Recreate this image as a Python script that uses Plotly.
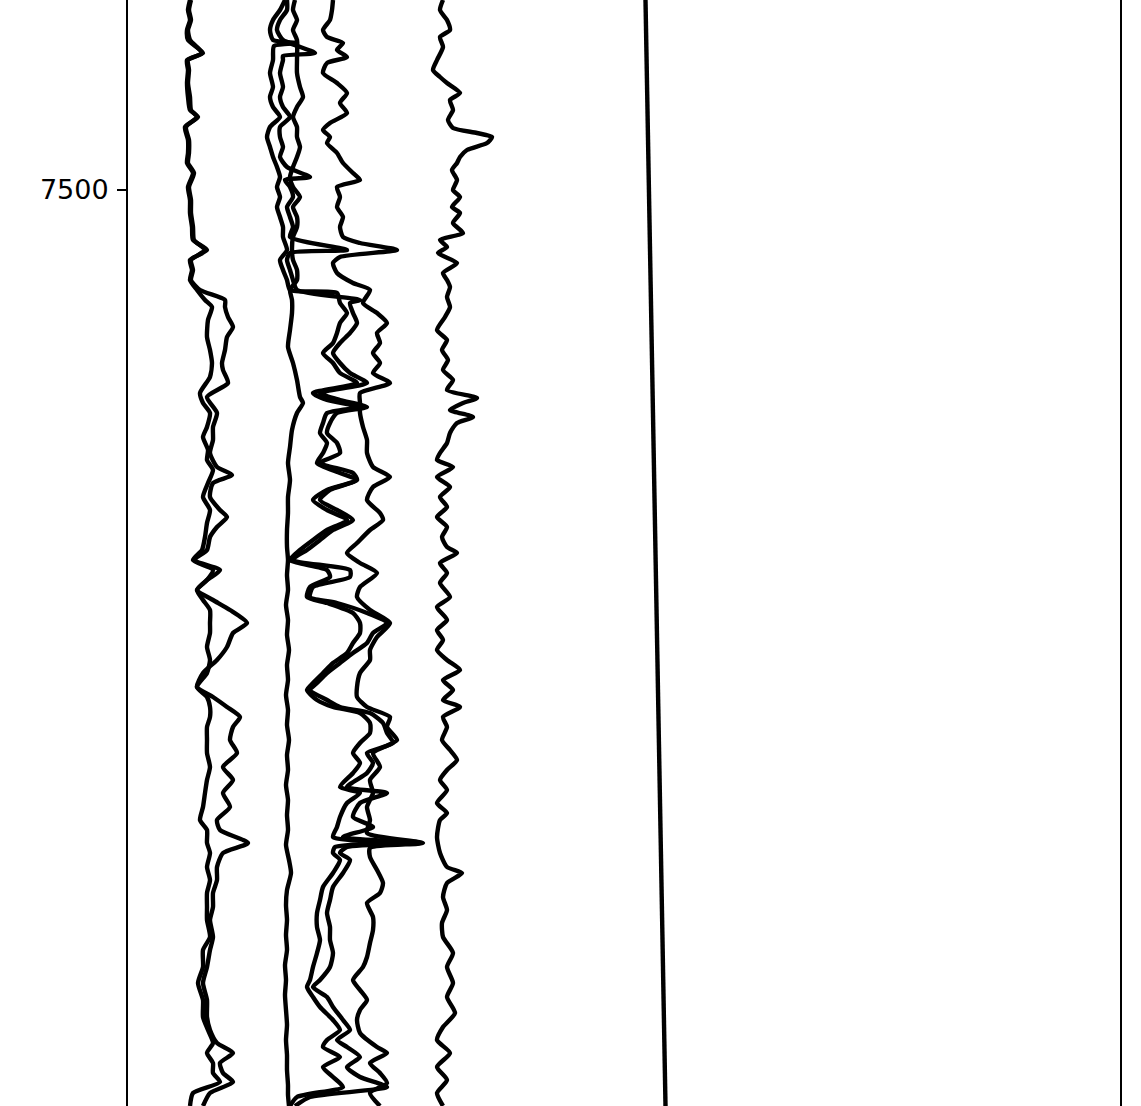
import plotly.graph_objects as go

# ---- curve A ----
depth_a = [7405,7410,7415,7420,7425,7431.5,7435,7440,7446.5,7453.5,7460,7463.5,7468.5,7475,7481.5,7486.5,7491.5,7498.5,7505,7511.5,
           7518.5,7525,7530,7535,7540,7545,7550,7555,7558.5,7565,7573.5,7580,7586.5,7593.5,7601.5,7606.5,7611.5,7618.5,7623.5,7630,
           7635,7640,7646.5,7653.5,7660,7666.5,7673.5,7680,7685,7690,7695,7700,7705,7710,7716.5,7721.5,7728.5,7735,7741.5,7748.5,
           7753.5,7758.5,7763.5,7768.5,7775,7781.5,7788.5,7795,7801.5,7808.5,7815,7820,7826.5,7831.5,7838.5,7845,7851.5,7858.5,7865,7873.5,
           7880,7888.5,7896.5,7905,7913.5,7920,7926.5,7931.5,7936.5,7941.5,7946,7951.5,7958]
curve_a = [62,60,62,59,60,75,59,60,59,60,62,70,57,60,60,59,65,60,62,62,
           64,65,79,62,64,62,69,77,84,80,79,82,84,82,72,75,82,79,75,80,
           79,85,80,75,82,79,77,74,65,85,79,69,75,82,82,82,79,82,79,69,
           79,82,82,79,79,79,82,79,77,75,72,79,79,82,79,82,79,79,79,82,
           75,75,70,75,75,80,85,79,85,85,92,65,62]

# ---- curve B ----
depth_b = [7405,7410,7415,7420,7425,7431.5,7435,7440,7446.5,7453.5,7460,7463.5,7468.5,7475,7481.5,7486.5,7491.5,7498.5,7505,7511.5,
           7518.5,7525,7530,7535,7540,7545,7550,7555,7558.5,7563.5,7568.5,7573.5,7580,7586.5,7590,7596.5,7603.5,7611.5,7618.5,7625,
           7631.5,7638.5,7642.5,7646.5,7653.5,7660,7663.5,7668.5,7673.5,7680,7685,7690,7695,7700,7705,7710,7716.5,7721.5,7728.5,7735,
           7741.5,7748.5,7753.5,7758.5,7763.5,7768.5,7775,7781.5,7788.5,7795,7801.5,7808.5,7815,7820,7826.5,7831.5,7838.5,7845,7851.5,7858.5,
           7865,7873.5,7880,7888.5,7896.5,7905,7913.5,7920,7926.5,7931.5,7936.5,7941.5,7946,7951.5,7958]
curve_b = [63,61,63,60,62,74,60,61,60,62,63,69,58,61,61,60,66,61,63,63,
           65,66,77,63,65,63,72,97,97,100,105,99,97,94,95,100,79,89,85,85,
           82,89,104,85,82,92,99,89,82,79,66,92,79,69,85,102,119,105,99,89,
           75,69,85,99,112,105,102,109,95,105,95,102,89,92,120,95,89,89,85,85,
           82,85,82,79,75,79,79,82,89,105,92,95,105,82,75]

# ---- curve C ----
depth_c = [7405,7410,7415,7420,7425,7435,7441.5,7448.5,7453.5,7458.5,7463.5,7468.5,7473.5,7478.5,7483.5,7488.5,7493.5,7498.5,7503.5,7508.5,
           7513.5,7518.5,7523.5,7530,7535,7540,7545,7550,7555,7561.5,7570,7578.5,7586.5,7595,7603.5,7606.5,7611.5,7620,7628.5,7636.5,
           7645,7653.5,7661.5,7670,7678.5,7685,7692.5,7700,7707.5,7715,7722.5,7730,7737.5,7745,7752.5,7760,7767.5,7775,7782.5,7790,
           7797.5,7805,7812.5,7820,7827.5,7835,7841.5,7850,7857.5,7865,7872.5,7880,7887.5,7895,7902.5,7910,7917.5,7925,7932.5,7940,
           7947.5,7952.5,7958]
curve_c = [167,165,169,165,169,169,169,172,175,169,165,169,169,172,169,165,162,165,172,165,
           169,169,165,164,165,169,169,162,164,164,162,160,165,169,172,175,169,164,162,160,
           162,160,160,159,159,160,159,160,158,160,159,161,159,160,158,160,159,161,159,160,
           158,160,159,160,158,161,163,159,158,159,158,159,157,158,157,158,159,158,159,159,
           160,160,161]

# ---- curve D ----
depth_d = [7405,7410,7415,7420,7425,7426.5,7428,7435,7441.5,7448.5,7453.5,7458.5,7463.5,7468.5,7473.5,7478.5,7483.5,7488.5,7493.5,7498.5,
           7503.5,7508.5,7513.5,7518.5,7523.5,7530,7535,7540,7545,7550,7551.5,7556.5,7561.5,7566.5,7571.5,7576.5,7581.5,7586.5,7591.5,7596.5,
           7601.5,7605,7608.5,7611.5,7616.5,7621.5,7626.5,7631.5,7636.5,7641.5,7645,7650,7655,7660,7665,7670,7675,7680,7685,7690,
           7693.5,7698.5,7703.5,7706.5,7711.5,7716.5,7721.5,7726.5,7731.5,7736.5,7741.5,7746.5,7750,7755,7758.5,7761.5,7766.5,7771.5,7776.5,7781.5,
           7786.5,7791.5,7798.5,7801.5,7806.5,7813.5,7818.5,7823.5,7826.5,7828.5,7831.5,7835,7841.5,7848.5,7855,7861.5,7868.5,7875,7881.5,7888.5,
           7895,7898.5,7903.5,7908.5,7915,7920,7925,7928.5,7933.5,7938.5,7943.5,7948.5,7953.5,7958]
curve_d = [157,152,145,142,145,169,146,145,142,145,142,145,152,142,139,142,145,149,152,149,
           152,149,152,155,155,159,152,155,159,162,209,212,219,212,209,205,195,205,212,229,
           185,199,232,199,195,192,199,195,189,212,229,199,185,199,219,199,185,172,162,199,
           202,182,179,199,225,232,232,225,219,205,195,185,179,189,205,232,242,242,232,225,
           232,225,212,232,219,212,209,205,262,207,205,212,205,195,192,189,189,192,189,185,
           182,179,185,192,205,212,199,195,212,195,205,215,169,162]

# ---- curve E ----
depth_e = [7405,7410,7415,7420,7425,7431.5,7433,7435,7441.5,7448.5,7453.5,7458.5,7463.5,7468.5,7473.5,7478.5,7483.5,7488.5,7493.5,7495,
           7498.5,7503.5,7508.5,7513.5,7518.5,7523.5,7530,7531.5,7535,7540,7545,7550,7555,7556.5,7561.5,7566.5,7571.5,7576.5,7581.5,7586.5,
           7591.5,7596.5,7601.5,7605,7608.5,7611.5,7616.5,7621.5,7626.5,7631.5,7636.5,7641.5,7645,7650,7655,7660,7665,7670,7675,7680,
           7685,7690,7693.5,7698.5,7703.5,7706.5,7711.5,7716.5,7721.5,7726.5,7731.5,7736.5,7741.5,7746.5,7750,7755,7758.5,7761.5,7766.5,7771.5,
           7776.5,7781.5,7786.5,7791.5,7798.5,7801.5,7806.5,7813.5,7818.5,7823.5,7826.5,7828.5,7831.5,7835,7841.5,7848.5,7855,7861.5,7868.5,7875,
           7881.5,7888.5,7895,7898.5,7903.5,7908.5,7915,7920,7925,7928.5,7933.5,7938.5,7943.5,7948.5,7953.5,7958]
curve_e = [159,159,152,149,155,187,155,155,152,155,152,155,162,152,152,155,152,159,182,157,
           162,165,159,162,165,162,219,162,159,162,165,169,232,222,225,229,222,212,205,212,
           222,239,192,212,239,209,202,199,209,212,192,225,229,202,192,209,225,205,192,179,
           164,222,222,185,182,209,239,259,245,239,225,212,199,189,182,199,212,242,255,259,
           265,239,245,239,219,259,232,225,245,215,292,219,212,222,215,205,202,199,202,202,
           205,202,192,185,199,205,215,222,209,219,232,219,232,259,182,167]

# ---- curve G ----
depth_g = [7405,7410,7415,7420,7423.5,7426.5,7430,7433.5,7436.5,7441.5,7446.5,7451.5,7456.5,7461.5,7466.5,7470,7473.5,7476.5,7481.5,7486.5,
           7491.5,7495,7498.5,7503.5,7508.5,7513.5,7518.5,7523.5,7526.5,7530,7533.5,7536.5,7541.5,7546.5,7550,7556.5,7561.5,7566.5,7571.5,7576.5,
           7581.5,7586.5,7591.5,7596.5,7601.5,7606.5,7611.5,7618.5,7625,7631.5,7638.5,7643.5,7648.5,7655,7661.5,7665,7670,7676.5,7681.5,7686.5,
           7691.5,7698.5,7703.5,7710,7716.5,7723.5,7730,7735,7741.5,7748.5,7753.5,7758.5,7763.5,7768.5,7775,7781.5,7788.5,7795,7801.5,7808.5,
           7815,7821.5,7826.5,7829,7833.5,7840,7846.5,7851.5,7856.5,7863.5,7870,7876.5,7883.5,7888.5,7895,7900,7905,7910,7915,7921.5,
           7928.5,7931.5,7936.5,7941.5,7946.5,7951.5,7958]
curve_g = [205,204,202,195,199,215,209,219,199,195,209,219,212,219,202,195,202,199,209,215,
           225,232,209,212,209,215,212,215,232,269,212,205,209,225,242,235,249,259,249,252,
           245,252,245,262,232,232,232,235,239,239,245,262,245,239,252,255,242,229,219,232,
           249,232,229,242,262,249,242,242,232,229,229,239,262,259,269,245,252,242,245,239,
           242,239,295,242,242,249,255,252,239,245,245,242,239,235,225,232,239,232,229,232,
           249,259,242,252,259,242,252]

# ---- curve F ----
depth_f = [7405,7410,7415,7420,7423.5,7428.5,7435,7440,7443.5,7446.5,7451.5,7455,7460,7465,7469,7471.5,7473.5,7476.5,7480,7483.5,
           7486.5,7490,7495,7500,7503.5,7508.5,7511.5,7516.5,7521.5,7525,7528.5,7531.5,7536.5,7541.5,7545,7548.5,7553.5,7558.5,7563.5,7570,
           7575,7580,7585,7590,7595,7600,7604,7606.5,7610,7613.5,7616.5,7621.5,7626.5,7631.5,7635,7638.5,7643.5,7648.5,7653.5,7658.5,
           7663.5,7668.5,7673.5,7678.5,7681.5,7686.5,7691.5,7696.5,7703.5,7708.5,7715,7720,7725,7730,7735,7740,7745,7750,7755,7758.5,
           7763.5,7768.5,7775,7780,7785,7790,7795,7800,7806.5,7811.5,7815,7823.5,7831.5,7838.5,7841.5,7846.5,7853.5,7860,7866.5,7873.5,
           7881.5,7888.5,7896.5,7903.5,7911.5,7918.5,7925,7931.5,7938.5,7945,7951.5,7958]
curve_f = [315,312,319,322,312,315,309,305,312,319,332,322,325,320,325,349,364,359,339,332,
           329,324,329,325,332,324,332,325,335,312,319,310,329,315,319,322,319,322,317,309,
           319,314,320,315,325,319,349,335,322,345,329,322,319,312,309,325,309,322,312,319,
           309,319,314,319,329,312,319,312,322,309,319,309,315,309,319,332,315,325,315,332,
           315,319,314,322,329,319,312,319,309,319,312,309,312,319,334,319,315,319,314,315,
           325,319,325,319,327,315,309,322,309,319,309,315]

# ---- straight curve H ----
depth_h = [7405, 7958]
curve_h = [517.5, 537.5]

y_tick_vals = [7000, 7500, 8000]
y_tick_text = ["7000", "7500", "8000"]

fig = go.Figure()
series = [
    (curve_a, depth_a), (curve_b, depth_b), (curve_c, depth_c), (curve_d, depth_d),
    (curve_e, depth_e), (curve_g, depth_g), (curve_f, depth_f), (curve_h, depth_h),
]
for xs, ds in series:
    fig.add_trace(go.Scatter(
        x=xs, y=ds, mode="lines",
        line=dict(color="black", width=4.4, shape="spline", smoothing=0.6),
        showlegend=False, hoverinfo="skip",
    ))

fig.update_layout(
    width=1141, height=1106,
    margin=dict(l=128, r=21, t=0, b=0, pad=0),
    paper_bgcolor="white", plot_bgcolor="white",
    font=dict(family="DejaVu Sans", size=27, color="black"),
)
fig.update_xaxes(range=[0, 992], showline=False, showgrid=False, zeroline=False,
                 showticklabels=False, ticks="")
fig.update_yaxes(range=[7958, 7405], tickvals=y_tick_vals, ticktext=y_tick_text,
                 ticks="outside", ticklen=9, tickwidth=2, tickcolor="black",
                 showline=True, linewidth=2, linecolor="black", mirror=True,
                 showgrid=False, zeroline=False, ticklabelstandoff=3)

fig.write_html("out.html")
